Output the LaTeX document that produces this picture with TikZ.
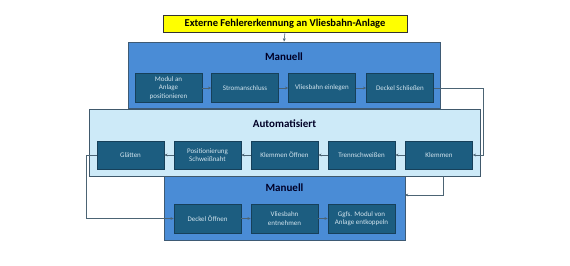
\documentclass[tikz,border=0pt]{standalone}
\usepackage{fontspec}
\setmainfont{Carlito}
\usetikzlibrary{arrows.meta}
\definecolor{manfill}{HTML}{4A8CD6}
\definecolor{manline}{HTML}{3E5A74}
\definecolor{autofill}{HTML}{CDEAF8}
\definecolor{autoline}{HTML}{40596C}
\definecolor{stepfill}{HTML}{1C5D80}
\definecolor{stepline}{HTML}{16405A}
\definecolor{steptext}{HTML}{D2E4EE}
\definecolor{conn}{HTML}{4C6474}
\definecolor{titlefill}{HTML}{FFFF00}
\begin{document}
\begin{tikzpicture}[x=1pt,y=-1pt,
  groupbox/.style={draw=#1,line width=0.9pt,inner sep=0pt},
  stepbox/.style={draw=stepline,fill=stepfill,line width=0.6pt,minimum width=67pt,minimum height=29pt,
    inner sep=1pt,align=center,text=steptext,font=\fontsize{7}{8.3}\selectfont},
  header/.style={font=\bfseries\fontsize{11}{13}\selectfont,text=black!85!blue},
  conn/.style={draw=conn,line width=0.6pt,-{Stealth[length=3.2pt,width=2.8pt]}}]
\useasboundingbox (0,0) rectangle (570,265);
% group containers
\node[groupbox=manline,fill=manfill,minimum width=312pt,minimum height=66pt] (man1) at (284,75) {};
\node[groupbox=manline,fill=manfill,minimum width=241pt,minimum height=64pt] (man2) at (284.5,208) {};
\node[groupbox=autoline,fill=autofill,minimum width=391pt,minimum height=67pt] (auto) at (284.5,142.5) {};
% title
\node[draw=black!80,fill=titlefill,line width=0.7pt,minimum width=244pt,minimum height=17pt,inner sep=0pt,
  font=\bfseries\fontsize{10.5}{12}\selectfont] (title) at (285,23.5) {Externe Fehlererkennung an Vliesbahn-Anlage};
% headers
\node[header] (h1) at (284,57) {Manuell};
\node[header] (h2) at (284.5,124) {Automatisiert};
\node[header] (h3) at (284.5,188) {Manuell};
% top row
\node[stepbox] (a1) at (168.5,88) {Modul an\\Anlage\\positionieren};
\node[stepbox] (a2) at (245,88) {Stromanschluss};
\node[stepbox] (a3) at (322,88) {Vliesbahn einlegen};
\node[stepbox] (a4) at (400,88) {Deckel Schließen};
% middle row
\node[stepbox,minimum height=28pt] (b1) at (130.5,155) {Glätten};
\node[stepbox,minimum height=28pt] (b2) at (207.5,155) {Positionierung\\Schweißnaht};
\node[stepbox,minimum height=28pt] (b3) at (284.5,155) {Klemmen Öffnen};
\node[stepbox,minimum height=28pt] (b4) at (361.5,155) {Trennschweißen};
\node[stepbox,minimum height=28pt] (b5) at (439,155) {Klemmen};
% bottom row
\node[stepbox] (c1) at (207.5,218.5) {Deckel Öffnen};
\node[stepbox] (c2) at (284.5,218.5) {Vliesbahn\\entnehmen};
\node[stepbox] (c3) at (361.5,218.5) {Ggfs. Modul von\\Anlage entkoppeln};
% helper coordinates
\coordinate (r1) at (483,88);
\coordinate (r2) at (483,155);
\coordinate (l1) at (86,155);
\coordinate (l2) at (86,218.5);
\coordinate (d1) at (443,176);
\coordinate (d2) at (443,195);
\coordinate (d3) at (405,195);
% connectors
\draw[conn] (title.south) -- (man1.north);
\draw[conn] (a1) -- (a2);
\draw[conn] (a2) -- (a3);
\draw[conn] (a3) -- (a4);
\draw[conn] (a4.east) -- (r1) -- (r2) -- (b5.east);
\draw[conn] (b5) -- (b4);
\draw[conn] (b4) -- (b3);
\draw[conn] (b3) -- (b2);
\draw[conn] (b2) -- (b1);
\draw[conn] (b1.west) -- (l1) -- (l2) -- (c1.west);
\draw[conn] (c1) -- (c2);
\draw[conn] (c2) -- (c3);
\draw[conn] (d1) -- (d2) -- (d3);
\end{tikzpicture}
\end{document}
